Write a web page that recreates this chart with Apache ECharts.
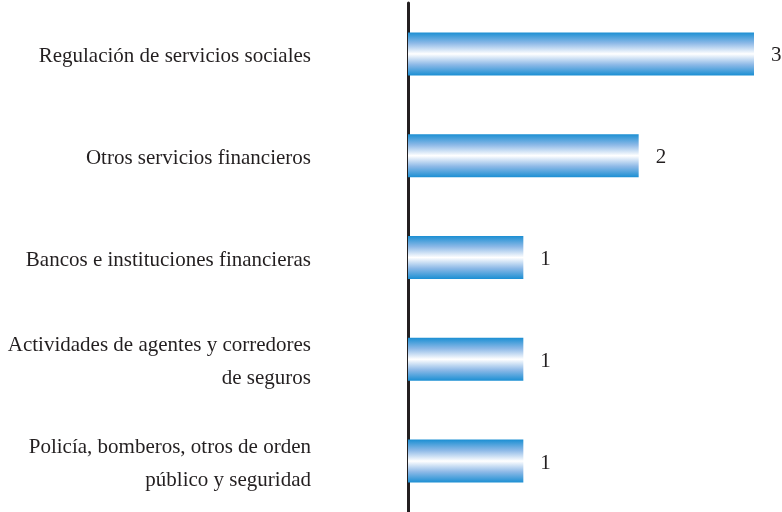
<!DOCTYPE html>
<html>
<head>
<meta charset="utf-8">
<script src="https://cdn.jsdelivr.net/npm/echarts@6/dist/echarts.min.js"></script>
<style>
  html, body { margin: 0; padding: 0; background: #fff; }
  #chart { width: 782px; height: 512px; }
</style>
</head>
<body>
<div id="chart"></div>
<script>
// categories top to bottom
const categories = [
  'Regulación de servicios sociales',
  'Otros servicios financieros',
  'Bancos e instituciones financieras',
  'Actividades de agentes y corredores\nde seguros',
  'Policía, bomberos, otros de orden\npúblico y seguridad'
]
const values = [3, 2, 1, 1, 1]

const chart = echarts.init(document.getElementById('chart'))

const option = {
  animation: false,
  grid: {
    left: 408,
    right: 28,
    top: 3,
    bottom: 0,
    containLabel: false
  },
  xAxis: {
    type: 'value',
    min: 0,
    max: 3,
    show: false
  },
  yAxis: {
    type: 'category',
    inverse: true,
    data: categories,
    axisLine: {
      show: true,
      lineStyle: { color: '#231f20', width: 3 }
    },
    axisTick: { show: false },
    axisLabel: {
      margin: 97,
      align: 'right',
      // nudge text a few px below the band centre, like the original
      formatter: (v) => v.split('\n').map((s) => '{t|' + s + '}').join('\n'),
      rich: {
        t: {
          color: '#231f20',
          fontFamily: 'Liberation Serif',
          fontSize: 21,
          lineHeight: 33,
          padding: [6, 0, 0, 0]
        }
      }
    }
  },
  series: [
    {
      type: 'bar',
      data: values,
      barWidth: 43,
      itemStyle: {
        color: new echarts.graphic.LinearGradient(0, 0, 0, 1, [
          { offset: 0, color: '#1b8fd3' },
          { offset: 0.25, color: '#8db9e7' },
          { offset: 0.5, color: '#ffffff' },
          { offset: 0.75, color: '#8db9e7' },
          { offset: 1, color: '#1b8fd3' }
        ])
      },
      label: {
        show: true,
        position: 'right',
        distance: 17,
        offset: [0, 2],
        color: '#231f20',
        fontFamily: 'Liberation Serif',
        fontSize: 21
      }
    }
  ]
}

chart.setOption(option)
</script>
</body>
</html>
